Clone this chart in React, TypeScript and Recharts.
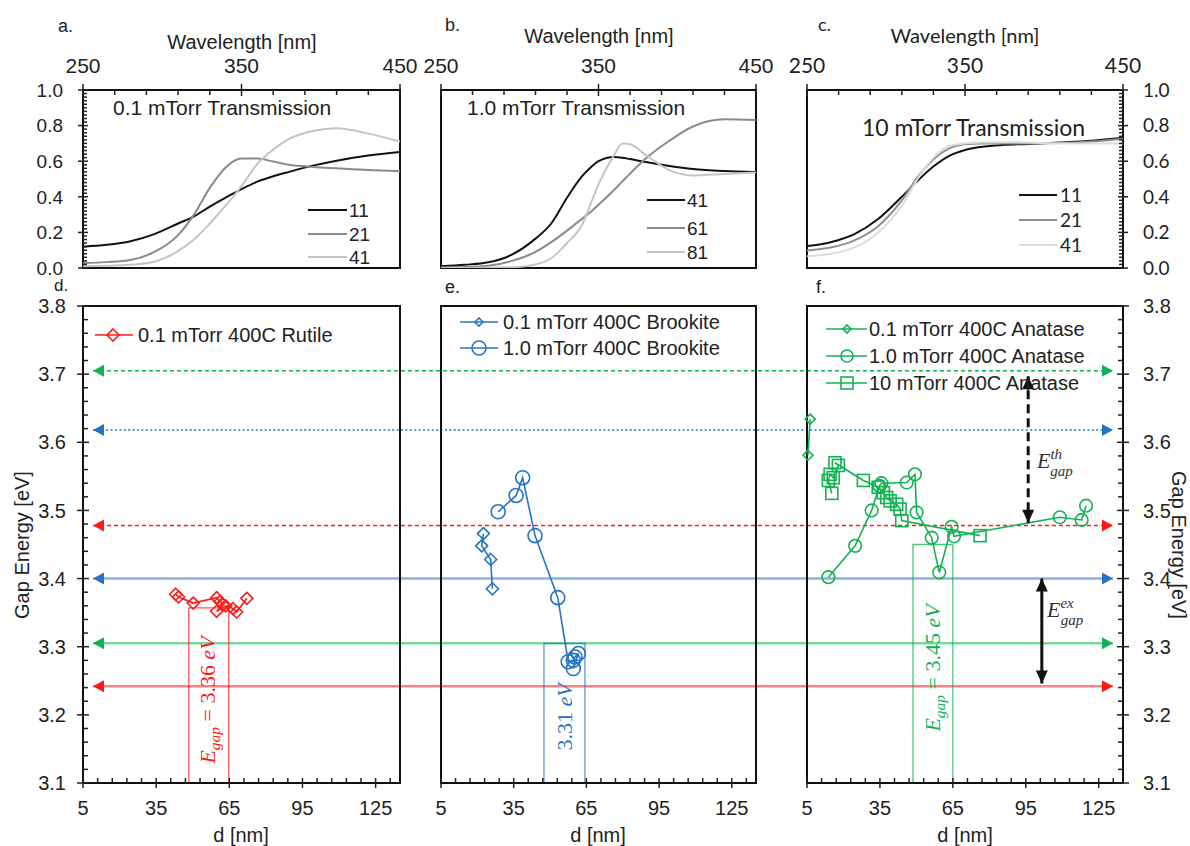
import React from 'react';
import { ComposedChart, Line, XAxis, YAxis, ReferenceArea } from 'recharts';

const W = 1190;
const H = 846;
const SANS = '"Liberation Sans", Arial, sans-serif';
const CAL = 'Lato, "Open Sans", sans-serif';
const MATH = '"Liberation Serif", "DejaVu Serif", serif';
const RED = '#ff1a1a';
const BLUE = '#2375c4';
const GREEN = '#12b254';
const INK = '#222';

// ---------- Top row: transmission spectra ----------
const wlA = [250, 265, 280, 295, 310, 320, 330, 340, 350, 360, 370, 380, 395, 410, 430, 450];
const tA11 = [0.12, 0.13, 0.15, 0.19, 0.25, 0.29, 0.345, 0.395, 0.443, 0.485, 0.515, 0.54, 0.575, 0.603, 0.632, 0.652];
const tA21 = [0.028, 0.033, 0.045, 0.09, 0.185, 0.3, 0.45, 0.565, 0.615, 0.615, 0.598, 0.58, 0.568, 0.56, 0.55, 0.544];
const tA41 = [0.01, 0.012, 0.018, 0.035, 0.095, 0.16, 0.25, 0.35, 0.46, 0.585, 0.665, 0.725, 0.77, 0.785, 0.755, 0.71];
const labelsA = ['11', '21', '41'];

const wlB = [250, 265, 280, 295, 310, 320, 330, 340, 345, 350, 360, 365, 370, 380, 395, 410, 430, 450];
const tB41 = [0.01, 0.018, 0.032, 0.075, 0.165, 0.25, 0.395, 0.52, 0.565, 0.6, 0.624, 0.62, 0.612, 0.595, 0.573, 0.556, 0.545, 0.54];
const tB61 = [0.003, 0.005, 0.012, 0.04, 0.09, 0.145, 0.21, 0.28, 0.315, 0.355, 0.44, 0.485, 0.53, 0.615, 0.715, 0.795, 0.835, 0.832];
const tB81 = [0, 0, 0.002, 0.004, 0.02, 0.055, 0.14, 0.25, 0.36, 0.47, 0.635, 0.7, 0.695, 0.635, 0.55, 0.52, 0.528, 0.536];
const labelsB = ['41', '61', '81'];

const wlC = [250, 265, 280, 295, 310, 320, 330, 340, 350, 360, 375, 390, 410, 430, 450];
const tC11 = [0.123, 0.145, 0.19, 0.275, 0.4, 0.49, 0.57, 0.63, 0.663, 0.68, 0.692, 0.697, 0.705, 0.715, 0.732];
const tC21 = [0.098, 0.115, 0.155, 0.235, 0.38, 0.51, 0.61, 0.672, 0.695, 0.7, 0.7, 0.7, 0.702, 0.71, 0.726];
const tC41 = [0.066, 0.08, 0.115, 0.2, 0.35, 0.5, 0.62, 0.685, 0.7, 0.705, 0.707, 0.705, 0.7, 0.7, 0.7];
const labelsC = ['11', '21', '41'];

const greysAB = ['#111', '#8a8a8a', '#c4c4c4'];
const greysC = ['#111', '#8f8f8f', '#dcdcdc'];

// ---------- Bottom row: gap energy vs thickness ----------
const rutD = [43, 44.2, 50.2, 59.8, 61.2, 62.5, 59.8, 63.5, 66.5, 68, 72.2];
const rutE = [3.377, 3.373, 3.364, 3.372, 3.366, 3.362, 3.352, 3.36, 3.356, 3.351, 3.371];

const brk01D = [22.5, 21.8, 25.5, 26.2];
const brk01E = [3.466, 3.448, 3.428, 3.385];
const brk10D = [28.6, 36, 38.7, 43.8, 53.2, 57.5, 59.6, 60.3, 61.7, 59.6];
const brk10E = [3.498, 3.522, 3.548, 3.463, 3.372, 3.278, 3.28, 3.285, 3.29, 3.268];

const ana01D = [6.3, 5.4];
const ana01E = [3.634, 3.581];
const ana10D = [13.8, 24.8, 31.6, 34.8, 35.6, 46, 49.4, 50.1, 56.3, 59.4, 64.5, 65.5, 109, 118, 119.8];
const ana10E = [3.402, 3.448, 3.5, 3.536, 3.54, 3.541, 3.553, 3.497, 3.46, 3.409, 3.476, 3.462, 3.49, 3.486, 3.507];
const ana100D = [15.2, 13.8, 14.5, 15.8, 17.9, 16.5, 28.2, 34.3, 36.4, 37.8, 39.2, 41.9, 43.3, 44, 76.2];
const ana100E = [3.525, 3.544, 3.553, 3.548, 3.566, 3.57, 3.544, 3.534, 3.526, 3.519, 3.514, 3.509, 3.502, 3.485, 3.463];

const legendD = ['0.1 mTorr 400C Rutile'];
const legendE = ['0.1 mTorr 400C Brookite', '1.0 mTorr 400C Brookite'];
const legendF = ['0.1 mTorr 400C Anatase', '1.0 mTorr 400C Anatase', '10 mTorr 400C Anatase'];

// horizontal reference levels (eV) crossing the bottom row
const guideE = [3.705, 3.618, 3.478, 3.4, 3.305, 3.242];
const guideColor = [GREEN, BLUE, RED, BLUE, GREEN, RED];
const guideDash = ['4 3', '2 2.4', '4 3', '', '', ''];
const guideEnds = [0.0096, 0.9904];

// band-gap boxes: [d1, d2, Etop]
const boxD = [48.4, 64.8, 3.357];
const boxE = [47.5, 64.4, 3.305];
const boxF = [48.6, 65, 3.45];

// energy difference arrows in panel f
const thD = [96, 96];
const thE = [3.697, 3.482];
const exD = [101.6, 101.6];
const exE = [3.4, 3.246];

// ---------- ticks ----------
const wlTicks = Array.from({ length: 11 }, (_, i) => 250 + i * 20);
const wlMajors = [250, 350, 450];
const tTicks = Array.from({ length: 51 }, (_, i) => i / 50);
const tMajors = [0, 0.2, 0.4, 0.6, 0.8, 1];
const dTicks = Array.from({ length: 22 }, (_, i) => 5 + i * 6);
const dMajors = [5, 35, 65, 95, 125];
const eTicks = Array.from({ length: 36 }, (_, i) => Math.round((3.1 + i * 0.02) * 100) / 100);
const eMajors = [3.1, 3.2, 3.3, 3.4, 3.5, 3.6, 3.7, 3.8];

const COLS = [
  { l: 83, r: 400 },
  { l: 441, r: 756 },
  { l: 807, r: 1123 },
];
const TOP = { t: 90, b: 268 };
const BOT = { t: 306, b: 783 };

const pts = (xs: number[], ys: number[], kx: string, ky: string) =>
  xs.map((x, i) => ({ [kx]: x, [ky]: ys[i] }));

type TickCfg = {
  side: 'top' | 'bottom' | 'left' | 'right';
  majors: number[];
  fmt: (v: number) => string;
  out: number;
  inn: number;
  minor: number;
  off: number;
  font: string;
  size: number;
};

const makeTick = (c: TickCfg) => (p: any) => {
  const { x, y, payload, index } = p;
  const v = payload.value;
  const major = c.majors.some((m) => Math.abs(m - v) < 1e-6);
  const o = major ? c.out : 0;
  const n = major ? c.inn : c.minor;
  let ln: any;
  let lb: any = null;
  const tp = { fill: INK, fontFamily: c.font, fontSize: c.size };
  if (c.side === 'top') {
    ln = <line x1={x} x2={x} y1={y - o} y2={y + n} />;
    lb = <text {...tp} x={x} y={y - c.off} textAnchor="middle" dy="0.36em">{c.fmt(v)}</text>;
  } else if (c.side === 'bottom') {
    ln = <line x1={x} x2={x} y1={y - n} y2={y + o} />;
    lb = <text {...tp} x={x} y={y + c.off} textAnchor="middle" dy="0.36em">{c.fmt(v)}</text>;
  } else if (c.side === 'left') {
    ln = <line x1={x - o} x2={x + n} y1={y} y2={y} />;
    lb = <text {...tp} x={x - c.off} y={y} textAnchor="end" dy="0.36em">{c.fmt(v)}</text>;
  } else {
    ln = <line x1={x - n} x2={x + o} y1={y} y2={y} />;
    lb = <text {...tp} x={x + c.off} y={y} textAnchor="start" dy="0.36em">{c.fmt(v)}</text>;
  }
  return (
    <g key={`tk${index}`} stroke={INK} strokeWidth={1.5}>
      {ln}
      {major ? <g stroke="none">{lb}</g> : null}
    </g>
  );
};

function Marker({ shape, cx, cy, size, color }: any) {
  if (shape === 'diamond')
    return (
      <path
        d={`M${cx} ${cy - size}L${cx + size} ${cy}L${cx} ${cy + size}L${cx - size} ${cy}Z`}
        fill="none"
        stroke={color}
        strokeWidth={1.6}
      />
    );
  if (shape === 'circle') return <circle cx={cx} cy={cy} r={size} fill="none" stroke={color} strokeWidth={1.6} />;
  return <rect x={cx - size} y={cy - size} width={size * 2} height={size * 2} fill="none" stroke={color} strokeWidth={1.6} />;
}

const markerDot = (shape: string, size: number, color: string) => (p: any) => {
  const { cx, cy, index } = p;
  if (cx == null || cy == null) return <g key={`n${index}`} />;
  return <Marker key={`m${index}`} shape={shape} cx={cx} cy={cy} size={size} color={color} />;
};

const arrowDot = (color: string, dir: 'h' | 'v', len: number, half: number) => (p: any) => {
  const { cx, cy, index } = p;
  if (cx == null || cy == null) return <g key={`n${index}`} />;
  const s = index === 0 ? 1 : -1;
  const d =
    dir === 'h'
      ? `M${cx} ${cy}L${cx + s * len} ${cy - half}L${cx + s * len} ${cy + half}Z`
      : `M${cx} ${cy}L${cx - half} ${cy + s * len}L${cx + half} ${cy + s * len}Z`;
  return <path key={`a${index}`} d={d} fill={color} stroke="none" />;
};

const Layer = ({ children }: any) => (
  <div style={{ position: 'absolute', left: 0, top: 0, width: W, height: H }}>{children}</div>
);

// axes get a 1px band (Recharts skips 0-size axes); margins compensate so the plot box stays put
function TopChart({ col, wl, ys, colors, side, font }: any) {
  const xTick = makeTick({ side: 'top', majors: wlMajors, fmt: (v) => String(v), out: 6, inn: 6, minor: 5, off: 25, font, size: 21 });
  const yTick =
    side === 'none'
      ? false
      : makeTick({ side, majors: tMajors, fmt: (v) => v.toFixed(1), out: 5, inn: 5, minor: 4, off: 20, font, size: 19 });
  const m = {
    left: col.l - (side === 'left' ? 1 : 0),
    right: W - col.r - (side === 'right' ? 1 : 0),
    top: TOP.t - 1,
    bottom: H - TOP.b,
  };
  return (
    <ComposedChart width={W} height={H} margin={m}>
      <XAxis
        xAxisId="x"
        dataKey="wl"
        type="number"
        domain={[250, 450]}
        allowDataOverflow
        orientation="top"
        height={1}
        ticks={wlTicks}
        interval={0}
        tickSize={0}
        tickMargin={0}
        axisLine={false}
        tickLine={false}
        tick={xTick}
      />
      <YAxis
        yAxisId="y"
        type="number"
        domain={[0, 1]}
        allowDataOverflow
        hide={side === 'none'}
        orientation={side === 'right' ? 'right' : 'left'}
        width={1}
        ticks={tTicks}
        interval={0}
        tickSize={0}
        tickMargin={0}
        axisLine={false}
        tickLine={false}
        tick={yTick}
      />
      <ReferenceArea xAxisId="x" yAxisId="y" x1={250} x2={450} y1={0} y2={1} fill="none" stroke="#111" strokeWidth={2} ifOverflow="visible" />
      {ys.map((y: number[], i: number) => (
        <Line
          key={`s${i}`}
          xAxisId="x"
          yAxisId="y"
          data={pts(wl, y, 'wl', 't')}
          dataKey="t"
          type="monotone"
          stroke={colors[i]}
          strokeWidth={2}
          dot={false}
          isAnimationActive={false}
        />
      ))}
    </ComposedChart>
  );
}

function BottomChart({ col, side, series, gapBox, gapColor, extras }: any) {
  const xTick = makeTick({ side: 'bottom', majors: dMajors, fmt: (v) => String(v), out: 5, inn: 5, minor: 5, off: 25, font: SANS, size: 20 });
  const yTick =
    side === 'none'
      ? false
      : makeTick({ side, majors: eMajors, fmt: (v) => v.toFixed(1), out: 6, inn: 6, minor: 5, off: side === 'left' ? 17 : 20, font: SANS, size: 20 });
  const m = {
    left: col.l - (side === 'left' ? 1 : 0),
    right: W - col.r - (side === 'right' ? 1 : 0),
    top: BOT.t,
    bottom: H - BOT.b - 1,
  };
  return (
    <ComposedChart width={W} height={H} margin={m}>
      <XAxis
        xAxisId="x"
        dataKey="d"
        type="number"
        domain={[5, 135]}
        height={1}
        ticks={dTicks}
        interval={0}
        tickSize={0}
        tickMargin={0}
        axisLine={false}
        tickLine={false}
        tick={xTick}
      />
      <YAxis
        yAxisId="y"
        type="number"
        domain={[3.1, 3.8]}
        hide={side === 'none'}
        orientation={side === 'right' ? 'right' : 'left'}
        width={1}
        ticks={eTicks}
        interval={0}
        tickSize={0}
        tickMargin={0}
        axisLine={false}
        tickLine={false}
        tick={yTick}
      />
      <ReferenceArea
        xAxisId="x"
        yAxisId="y"
        x1={gapBox[0]}
        x2={gapBox[1]}
        y1={3.1}
        y2={gapBox[2]}
        fill="none"
        stroke={gapColor}
        strokeOpacity={0.75}
        strokeWidth={1.3}
        ifOverflow="visible"
      />
      <ReferenceArea xAxisId="x" yAxisId="y" x1={5} x2={135} y1={3.1} y2={3.8} fill="none" stroke="#111" strokeWidth={2} ifOverflow="visible" />
      {series.map((s: any, i: number) => (
        <Line
          key={`b${i}`}
          xAxisId="x"
          yAxisId="y"
          data={pts(s.x, s.y, 'd', 'e')}
          dataKey="e"
          type="linear"
          stroke={s.color}
          strokeWidth={1.6}
          dot={markerDot(s.shape, s.size, s.color)}
          isAnimationActive={false}
        />
      ))}
      {extras}
    </ComposedChart>
  );
}

function GuideChart() {
  return (
    <ComposedChart width={W} height={H} margin={{ left: COLS[0].l, right: W - COLS[2].r, top: BOT.t, bottom: H - BOT.b }}>
      <XAxis xAxisId="x" dataKey="f" type="number" domain={[0, 1]} hide />
      <YAxis yAxisId="y" type="number" domain={[3.1, 3.8]} hide />
      {guideE.map((e, i) => (
        <Line
          key={`g${i}`}
          xAxisId="x"
          yAxisId="y"
          data={guideEnds.map((f) => ({ f, e }))}
          dataKey="e"
          type="linear"
          stroke={guideColor[i]}
          strokeOpacity={guideDash[i] ? 1 : 0.55}
          strokeWidth={guideDash[i] ? 1.5 : 2.6}
          strokeDasharray={guideDash[i] || undefined}
          dot={arrowDot(guideColor[i], 'h', 11, 6)}
          isAnimationActive={false}
        />
      ))}
    </ComposedChart>
  );
}

function MathLabel({ x, y, color, value, withE = true, size = 22 }: any) {
  return (
    <text transform={`translate(${x},${y}) rotate(-90)`} textAnchor="middle" fontFamily={MATH} fontSize={size} fill={color}>
      {withE ? (
        <>
          <tspan fontStyle="italic">E</tspan>
          <tspan fontStyle="italic" fontSize={size * 0.7} dy={5}>gap</tspan>
          <tspan dy={-5}>{` = ${value} `}</tspan>
        </>
      ) : (
        <tspan>{`${value} `}</tspan>
      )}
      <tspan fontStyle="italic">eV</tspan>
    </text>
  );
}

function Overlay() {
  const T = (p: any) => <text fill={INK} fontFamily={SANS} fontSize={20} {...p} />;
  const topLeg = [
    { x1: 308, x2: 347, tx: 349, ys: [210, 234, 257], labels: labelsA, colors: greysAB, font: SANS },
    { x1: 647, x2: 685, tx: 687, ys: [200, 228, 252], labels: labelsB, colors: greysAB, font: SANS },
    { x1: 1019, x2: 1057, tx: 1060, ys: [195, 220, 245], labels: labelsC, colors: greysC, font: CAL },
  ];
  const botLeg = [
    { x1: 95, x2: 133, mx: 113, tx: 138, ys: [335], labels: legendD, shapes: ['diamond'], sizes: [6], color: RED },
    { x1: 460, x2: 498, mx: 479, tx: 503, ys: [322, 348], labels: legendE, shapes: ['diamond', 'circle'], sizes: [4, 7], color: BLUE },
    { x1: 826, x2: 867, mx: 847, tx: 869, ys: [329, 356, 383], labels: legendF, shapes: ['diamond', 'circle', 'square'], sizes: [4, 6, 6], color: GREEN },
  ];
  return (
    <svg width={W} height={H} style={{ position: 'absolute', left: 0, top: 0 }}>
      <T x={58} y={32} fontSize={18}>a.</T>
      <T x={445} y={31} fontSize={18}>b.</T>
      <T x={818} y={31} fontSize={18} fontFamily={CAL}>c.</T>
      <T x={54} y={291} fontSize={17}>d.</T>
      <T x={445} y={293} fontSize={18}>e.</T>
      <T x={816} y={293} fontSize={18}>f.</T>

      <T x={242} y={49} textAnchor="middle">Wavelength [nm]</T>
      <T x={599} y={43} textAnchor="middle">Wavelength [nm]</T>
      <T x={965} y={43} textAnchor="middle" fontFamily={CAL}>Wavelength [nm]</T>

      <T x={113} y={115} fontSize={21}>0.1 mTorr Transmission</T>
      <T x={467} y={115} fontSize={21}>1.0 mTorr Transmission</T>
      <T x={862} y={136} fontSize={23} fontFamily={CAL}>10 mTorr Transmission</T>

      {topLeg.map((L, k) =>
        L.ys.map((y, i) => (
          <g key={`tl${k}${i}`}>
            <line x1={L.x1} x2={L.x2} y1={y} y2={y} stroke={L.colors[i]} strokeWidth={2} />
            <text x={L.tx} y={y} dy="0.36em" fill={INK} fontFamily={L.font} fontSize={19}>{L.labels[i]}</text>
          </g>
        ))
      )}

      {botLeg.map((L, k) =>
        L.ys.map((y, i) => (
          <g key={`bl${k}${i}`}>
            <line x1={L.x1} x2={L.x2} y1={y} y2={y} stroke={L.color} strokeWidth={1.6} />
            <Marker shape={L.shapes[i]} cx={L.mx} cy={y} size={L.sizes[i]} color={L.color} />
            <text x={L.tx} y={y} dy="0.36em" fill={INK} fontFamily={SANS} fontSize={20}>{L.labels[i]}</text>
          </g>
        ))
      )}

      <T x={241} y={842} textAnchor="middle">d [nm]</T>
      <T x={598} y={842} textAnchor="middle">d [nm]</T>
      <T x={965} y={842} textAnchor="middle">d [nm]</T>

      <text transform="translate(29,545) rotate(-90)" textAnchor="middle" fill={INK} fontFamily={SANS} fontSize={20}>Gap Energy [eV]</text>
      <text transform="translate(1172,545) rotate(90)" textAnchor="middle" fill={INK} fontFamily={SANS} fontSize={20}>Gap Energy [eV]</text>

      <MathLabel x={215} y={700} color={RED} value="3.36" />
      <MathLabel x={572} y={717} color={BLUE} value="3.31" withE={false} />
      <MathLabel x={940} y={668} color={GREEN} value="3.45" />

      <text x={1037} y={468} fontFamily={MATH} fontSize={22} fontStyle="italic" fill="#333">
        E<tspan fontSize={15} dy={-9}>th</tspan>
        <tspan fontSize={15} dx={-12} dy={17}>gap</tspan>
      </text>
      <text x={1047} y={617} fontFamily={MATH} fontSize={22} fontStyle="italic" fill="#333">
        E<tspan fontSize={15} dy={-9}>ex</tspan>
        <tspan fontSize={15} dx={-13} dy={17}>gap</tspan>
      </text>
    </svg>
  );
}

export default function App() {
  const fExtras = [
    <Line
      key="th"
      xAxisId="x"
      yAxisId="y"
      data={pts(thD, thE, 'd', 'e')}
      dataKey="e"
      type="linear"
      stroke="#111"
      strokeWidth={3}
      strokeDasharray="9 5"
      dot={arrowDot('#111', 'v', 13, 6)}
      isAnimationActive={false}
    />,
    <Line
      key="ex"
      xAxisId="x"
      yAxisId="y"
      data={pts(exD, exE, 'd', 'e')}
      dataKey="e"
      type="linear"
      stroke="#111"
      strokeWidth={3}
      dot={arrowDot('#111', 'v', 13, 6)}
      isAnimationActive={false}
    />,
  ];
  return (
    <div style={{ position: 'absolute', left: 0, top: 0, width: W, height: H, background: '#fff', overflow: 'hidden' }}>
      <Layer>
        <TopChart col={COLS[0]} wl={wlA} ys={[tA11, tA21, tA41]} colors={greysAB} side="left" font={SANS} />
      </Layer>
      <Layer>
        <TopChart col={COLS[1]} wl={wlB} ys={[tB41, tB61, tB81]} colors={greysAB} side="none" font={SANS} />
      </Layer>
      <Layer>
        <TopChart col={COLS[2]} wl={wlC} ys={[tC11, tC21, tC41]} colors={greysC} side="right" font={CAL} />
      </Layer>
      <Layer>
        <GuideChart />
      </Layer>
      <Layer>
        <BottomChart
          col={COLS[0]}
          side="left"
          gapBox={boxD}
          gapColor={RED}
          series={[{ x: rutD, y: rutE, color: RED, shape: 'diamond', size: 6 }]}
        />
      </Layer>
      <Layer>
        <BottomChart
          col={COLS[1]}
          side="none"
          gapBox={boxE}
          gapColor={BLUE}
          series={[
            { x: brk01D, y: brk01E, color: BLUE, shape: 'diamond', size: 6 },
            { x: brk10D, y: brk10E, color: BLUE, shape: 'circle', size: 7 },
          ]}
        />
      </Layer>
      <Layer>
        <BottomChart
          col={COLS[2]}
          side="right"
          gapBox={boxF}
          gapColor={GREEN}
          series={[
            { x: ana01D, y: ana01E, color: GREEN, shape: 'diamond', size: 5 },
            { x: ana10D, y: ana10E, color: GREEN, shape: 'circle', size: 6.3 },
            { x: ana100D, y: ana100E, color: GREEN, shape: 'square', size: 6 },
          ]}
          extras={fExtras}
        />
      </Layer>
      <Overlay />
    </div>
  );
}
